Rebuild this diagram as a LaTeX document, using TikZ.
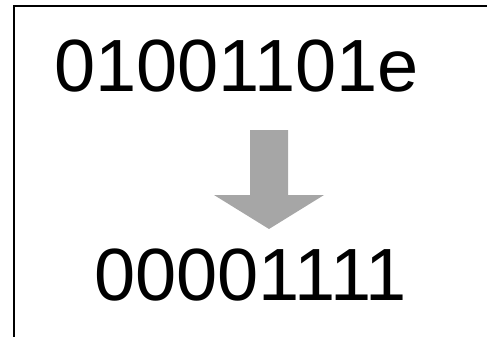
\documentclass[tikz,border=0pt]{standalone}
\usepackage{fontspec}
\setmainfont{Liberation Sans}
\usetikzlibrary{positioning}
\definecolor{arrowgray}{HTML}{A6A6A6}
\tikzstyle{bits} = [inner sep=0pt, anchor=base west, font=\fontsize{74}{80}\selectfont]
\tikzstyle{frame} = [line width=2pt, black]
\tikzstyle{bigarrow} = [fill=arrowgray, draw=none]

\begin{document}
\begin{tikzpicture}[x=1pt, y=-1pt]
		\useasboundingbox (0,0) rectangle (487,337);
		\node(in) [bits] at (54,92) {01001101e};
		\node(out) [bits] at (94,300) {00001111};
		\coordinate(corner) at (13.5,6);
		\coordinate(leftend) at (13.5,337);
		\coordinate(topend) at (487,6);
		\draw [frame] (leftend) -- (corner) -- (topend);
		% block arrow between the two words
		\fill [bigarrow] (250,130) -- (288,130) -- (288,195) -- (324,195) -- (269,229) -- (214,195) -- (250,195) -- cycle;
	\end{tikzpicture}
\end{document}
